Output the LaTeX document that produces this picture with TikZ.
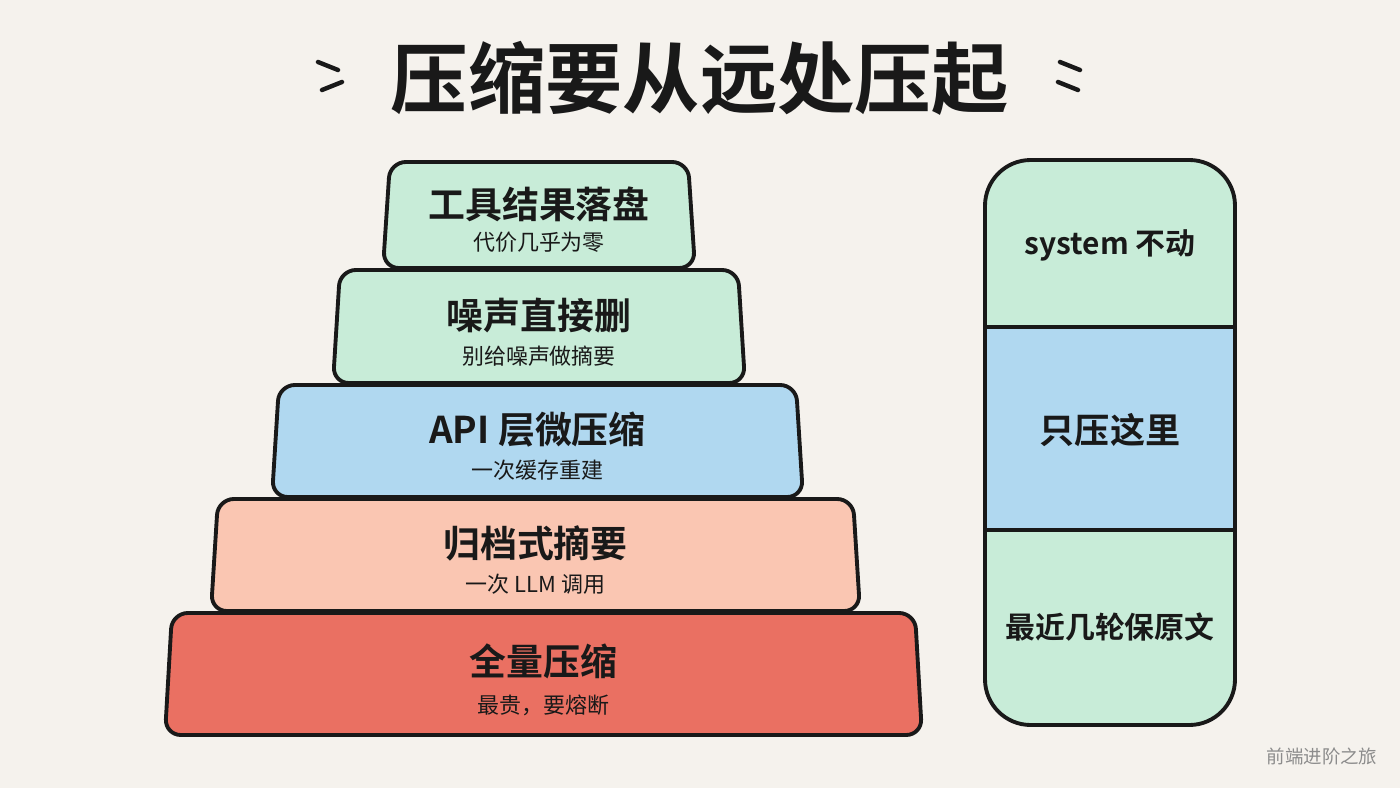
\documentclass[tikz,border=0pt]{standalone}
\usepackage{fontspec}
\setmainfont{Noto Sans CJK SC}
\newfontfamily\cjkbold{Noto Sans CJK SC Bold}
\definecolor{paper}{RGB}{245, 242, 237}
\definecolor{mint}{RGB}{200, 236, 216}
\definecolor{sky}{RGB}{176, 216, 240}
\definecolor{peach}{RGB}{250, 198, 178}
\definecolor{brick}{RGB}{234, 112, 98}
\definecolor{ink}{RGB}{25, 25, 25}
\begin{document}
\begin{tikzpicture}[
   x={(0.02cm,0)}, y={(0,-0.02cm)},
   tier/.style={draw=ink, line width=2.2, rounded corners=9},
   tiermain/.style={font=\cjkbold\fontsize{21}{21}\selectfont, text=ink},
   tiersub/.style={font=\fontsize{12.5}{13}\selectfont, text=ink},
   colbox/.style={draw=ink, line width=2.2, rounded corners=26},
   coltext/.style={font=\cjkbold\fontsize{17}{17}\selectfont, text=ink}
  ]

  % Canvas
  \fill[paper] (0, 0) rectangle (1400, 788);
  \useasboundingbox (0, 0) rectangle (1400, 788);

  % Title
  \node (title) at (700, 78) [font=\cjkbold\fontsize{44}{44}\selectfont, text=ink] {压缩要从远处压起};
  \draw[ink, line width=2.5, line cap=round] (318, 62) -- (338, 70) (322, 90) -- (342, 82)
                                            (1060, 62) -- (1080, 70) (1058, 82) -- (1078, 90);

  % Pyramid
  \foreach \n/\yt/\yb/\xl/\xr/\col/\main/\sub in {
      a/162/268/383/695/mint/{工具结果落盘}/{代价几乎为零},
      b/270/383/333/745/mint/{噪声直接删}/{别给噪声做摘要},
      c/385/497/272/803/sky/{API 层微压缩}/{一次缓存重建},
      d/499/611/211/860/peach/{归档式摘要}/{一次 LLM 调用},
      e/613/735/165/922/brick/{全量压缩}/{最贵，要熔断}} {
    \draw[tier, fill=\col] (\xl, \yb) -- (\xl + 7, \yt) -- (\xr - 7, \yt) -- (\xr, \yb) -- cycle;
    \node (\n main) at ({(\xl + \xr) / 2}, {\yt + 0.4 * (\yb - \yt)}) [tiermain] {\main};
    \node (\n sub) at ({(\xl + \xr) / 2}, {\yt + 0.76 * (\yb - \yt)}) [tiersub] {\sub};
  }

  % Context column
  \begin{scope}
    \clip[rounded corners=26] (985, 160) rectangle (1235, 725);
    \fill[mint] (985, 160) rectangle (1235, 327);
    \fill[sky] (985, 327) rectangle (1235, 530);
    \fill[mint] (985, 530) rectangle (1235, 725);
  \end{scope}
  \draw[ink, line width=2.2] (985, 327) -- (1235, 327) (985, 530) -- (1235, 530);
  \draw[colbox] (985, 160) rectangle (1235, 725);

  \node (sys) at (1110, 245) [coltext] {system 不动};
  \node (mid) at (1110, 430) [coltext, font=\cjkbold\fontsize{20}{20}\selectfont] {只压这里};
  \node (recent) at (1110, 627) [coltext] {最近几轮保原文};

  \node (mark) at (1322, 756) [font=\fontsize{10.5}{11}\selectfont, text=black!45] {前端进阶之旅};

\end{tikzpicture}
\end{document}
